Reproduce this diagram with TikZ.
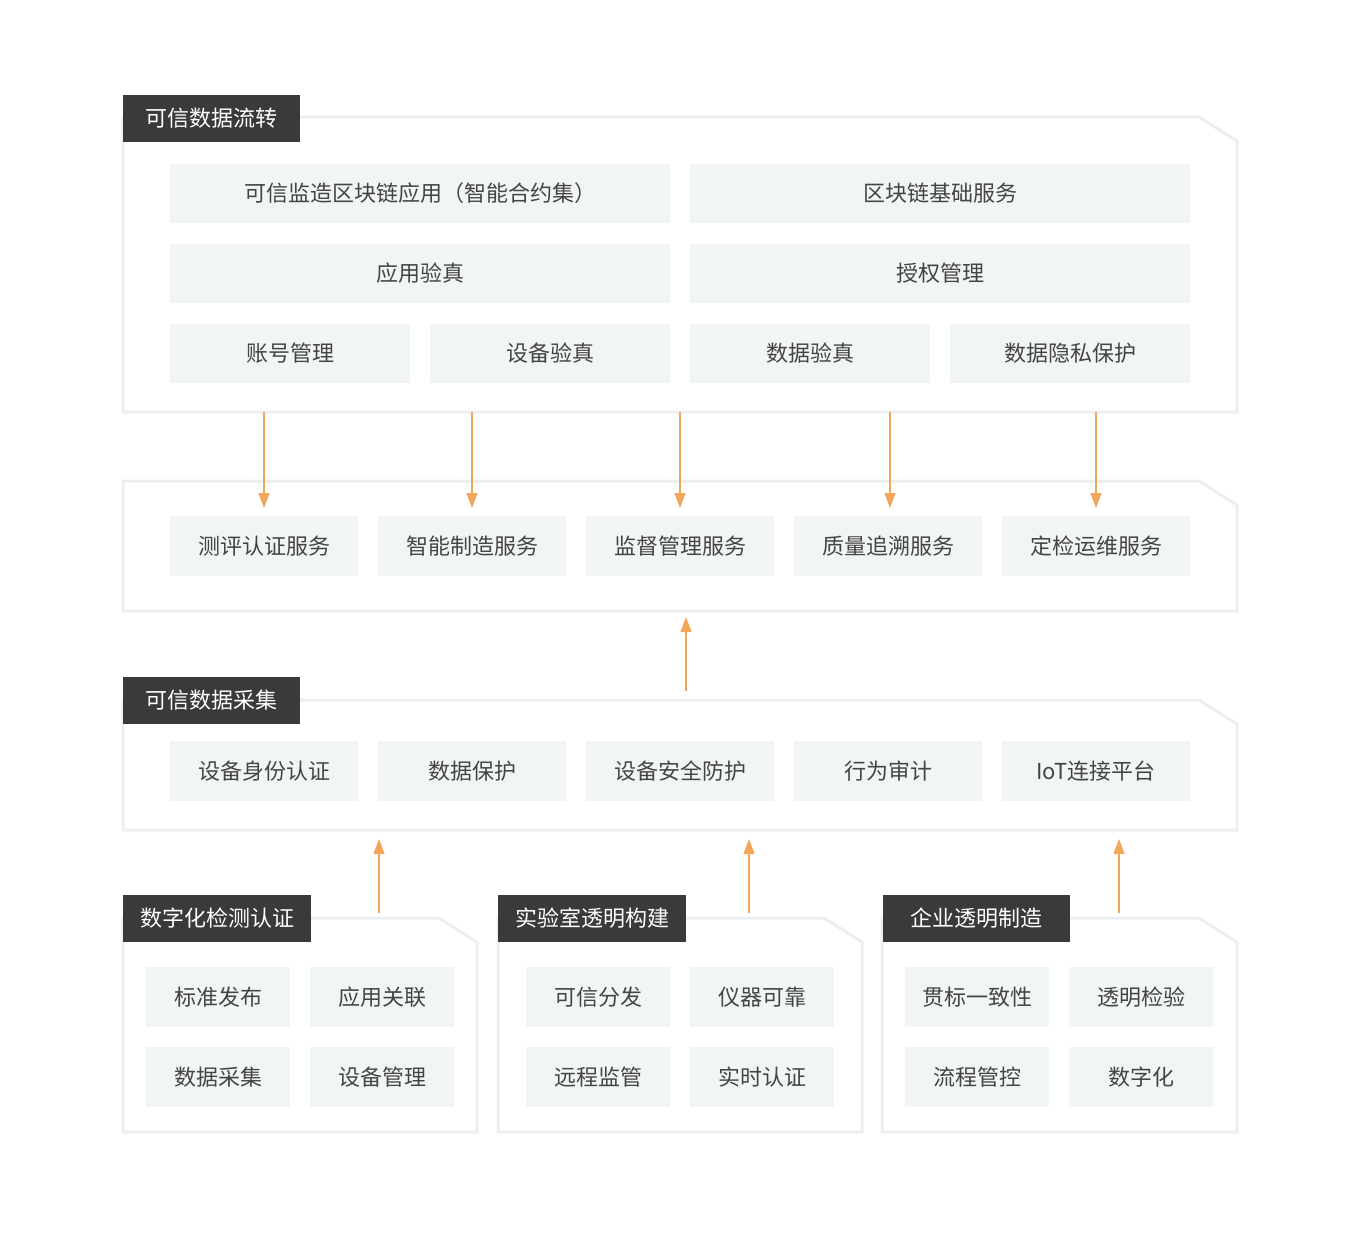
\documentclass[tikz,border=0pt]{standalone}
\usepackage{fontspec}
\setmainfont{Noto Sans CJK SC}
\usetikzlibrary{arrows.meta}
\definecolor{bx}{HTML}{F2F5F6}
\definecolor{tab}{HTML}{3A3A3A}
\definecolor{txt}{HTML}{444444}
\definecolor{org}{HTML}{F2A65A}
\definecolor{sh}{HTML}{ECEEEF}
\tikzset{x=1pt,y=-1pt,
 bxs/.style={fill=bx,draw=none},
 lbl/.style={font=\fontsize{22}{24}\selectfont,text=txt},
 tabs/.style={fill=tab,draw=none},
 tablbl/.style={font=\fontsize{22}{24}\selectfont,text=white},
 arr/.style={draw=org,line width=1.3pt,-{Triangle[width=11pt,length=15pt]}}}
\newcommand{\panel}[4]{\fill[white,draw=sh,line width=3pt] (#1,#2) -- ({#3-38},#2) -- (#3,{#2+24}) -- (#3,#4) -- (#1,#4) -- cycle;}
\newcommand{\bx}[6]{\fill[bx] (#2,#3) rectangle (#4,#5); \node[lbl] (#1) at ({(#2+#4)/2},{(#3+#5)/2}) {#6};}
\newcommand{\tb}[6]{\fill[tab] (#2,#3) rectangle (#4,#5); \node[tablbl] (#1) at ({(#2+#4)/2},{(#3+#5)/2}) {#6};}
\begin{document}
\begin{tikzpicture}
\useasboundingbox (0,0) rectangle (1360,1233);
% panel 1
\panel{123}{117}{1237}{412}
\tb{t1}{123}{95}{300}{142}{可信数据流转}
\bx{a1}{170}{164}{670}{223}{可信监造区块链应用（智能合约集）}
\bx{a2}{690}{164}{1190}{223}{区块链基础服务}
\bx{a3}{170}{244}{670}{303}{应用验真}
\bx{a4}{690}{244}{1190}{303}{授权管理}
\bx{a5}{170}{324}{410}{383}{账号管理}
\bx{a6}{430}{324}{670}{383}{设备验真}
\bx{a7}{690}{324}{930}{383}{数据验真}
\bx{a8}{950}{324}{1190}{383}{数据隐私保护}
% panel 2
\panel{123}{481}{1237}{611}
\bx{b1}{170}{516}{358}{576}{测评认证服务}
\bx{b2}{378}{516}{566}{576}{智能制造服务}
\bx{b3}{586}{516}{774}{576}{监督管理服务}
\bx{b4}{794}{516}{982}{576}{质量追溯服务}
\bx{b5}{1002}{516}{1190}{576}{定检运维服务}
% panel 3
\panel{123}{700}{1237}{830}
\tb{t3}{123}{677}{300}{724}{可信数据采集}
\bx{c1}{170}{741}{358}{801}{设备身份认证}
\bx{c2}{378}{741}{566}{801}{数据保护}
\bx{c3}{586}{741}{774}{801}{设备安全防护}
\bx{c4}{794}{741}{982}{801}{行为审计}
\bx{c5}{1002}{741}{1190}{801}{IoT连接平台}
% bottom panels
\panel{123}{918}{477}{1132}
\tb{t4}{123}{895}{311}{942}{数字化检测认证}
\bx{d1}{146}{967}{290}{1027}{标准发布}
\bx{d2}{310}{967}{454}{1027}{应用关联}
\bx{d3}{146}{1047}{290}{1107}{数据采集}
\bx{d4}{310}{1047}{454}{1107}{设备管理}
\panel{498}{918}{862}{1132}
\tb{t5}{498}{895}{686}{942}{实验室透明构建}
\bx{e1}{526}{967}{670}{1027}{可信分发}
\bx{e2}{690}{967}{834}{1027}{仪器可靠}
\bx{e3}{526}{1047}{670}{1107}{远程监管}
\bx{e4}{690}{1047}{834}{1107}{实时认证}
\panel{882}{918}{1237}{1132}
\tb{t6}{883}{895}{1070}{942}{企业透明制造}
\bx{f1}{905}{967}{1049}{1027}{贯标一致性}
\bx{f2}{1069}{967}{1213}{1027}{透明检验}
\bx{f3}{905}{1047}{1049}{1107}{流程管控}
\bx{f4}{1069}{1047}{1213}{1107}{数字化}
% arrows
\foreach \x in {264,472,680,890,1096} {\coordinate (s\x) at (\x,412); \coordinate (e\x) at (\x,508); \draw[arr] (s\x) -- (e\x);}
\coordinate (u1) at (686,691); \coordinate (u2) at (686,617); \draw[arr] (u1) -- (u2);
\foreach \x in {379,749,1119} {\coordinate (p\x) at (\x,913); \coordinate (q\x) at (\x,839); \draw[arr] (p\x) -- (q\x);}
\end{tikzpicture}
\end{document}
